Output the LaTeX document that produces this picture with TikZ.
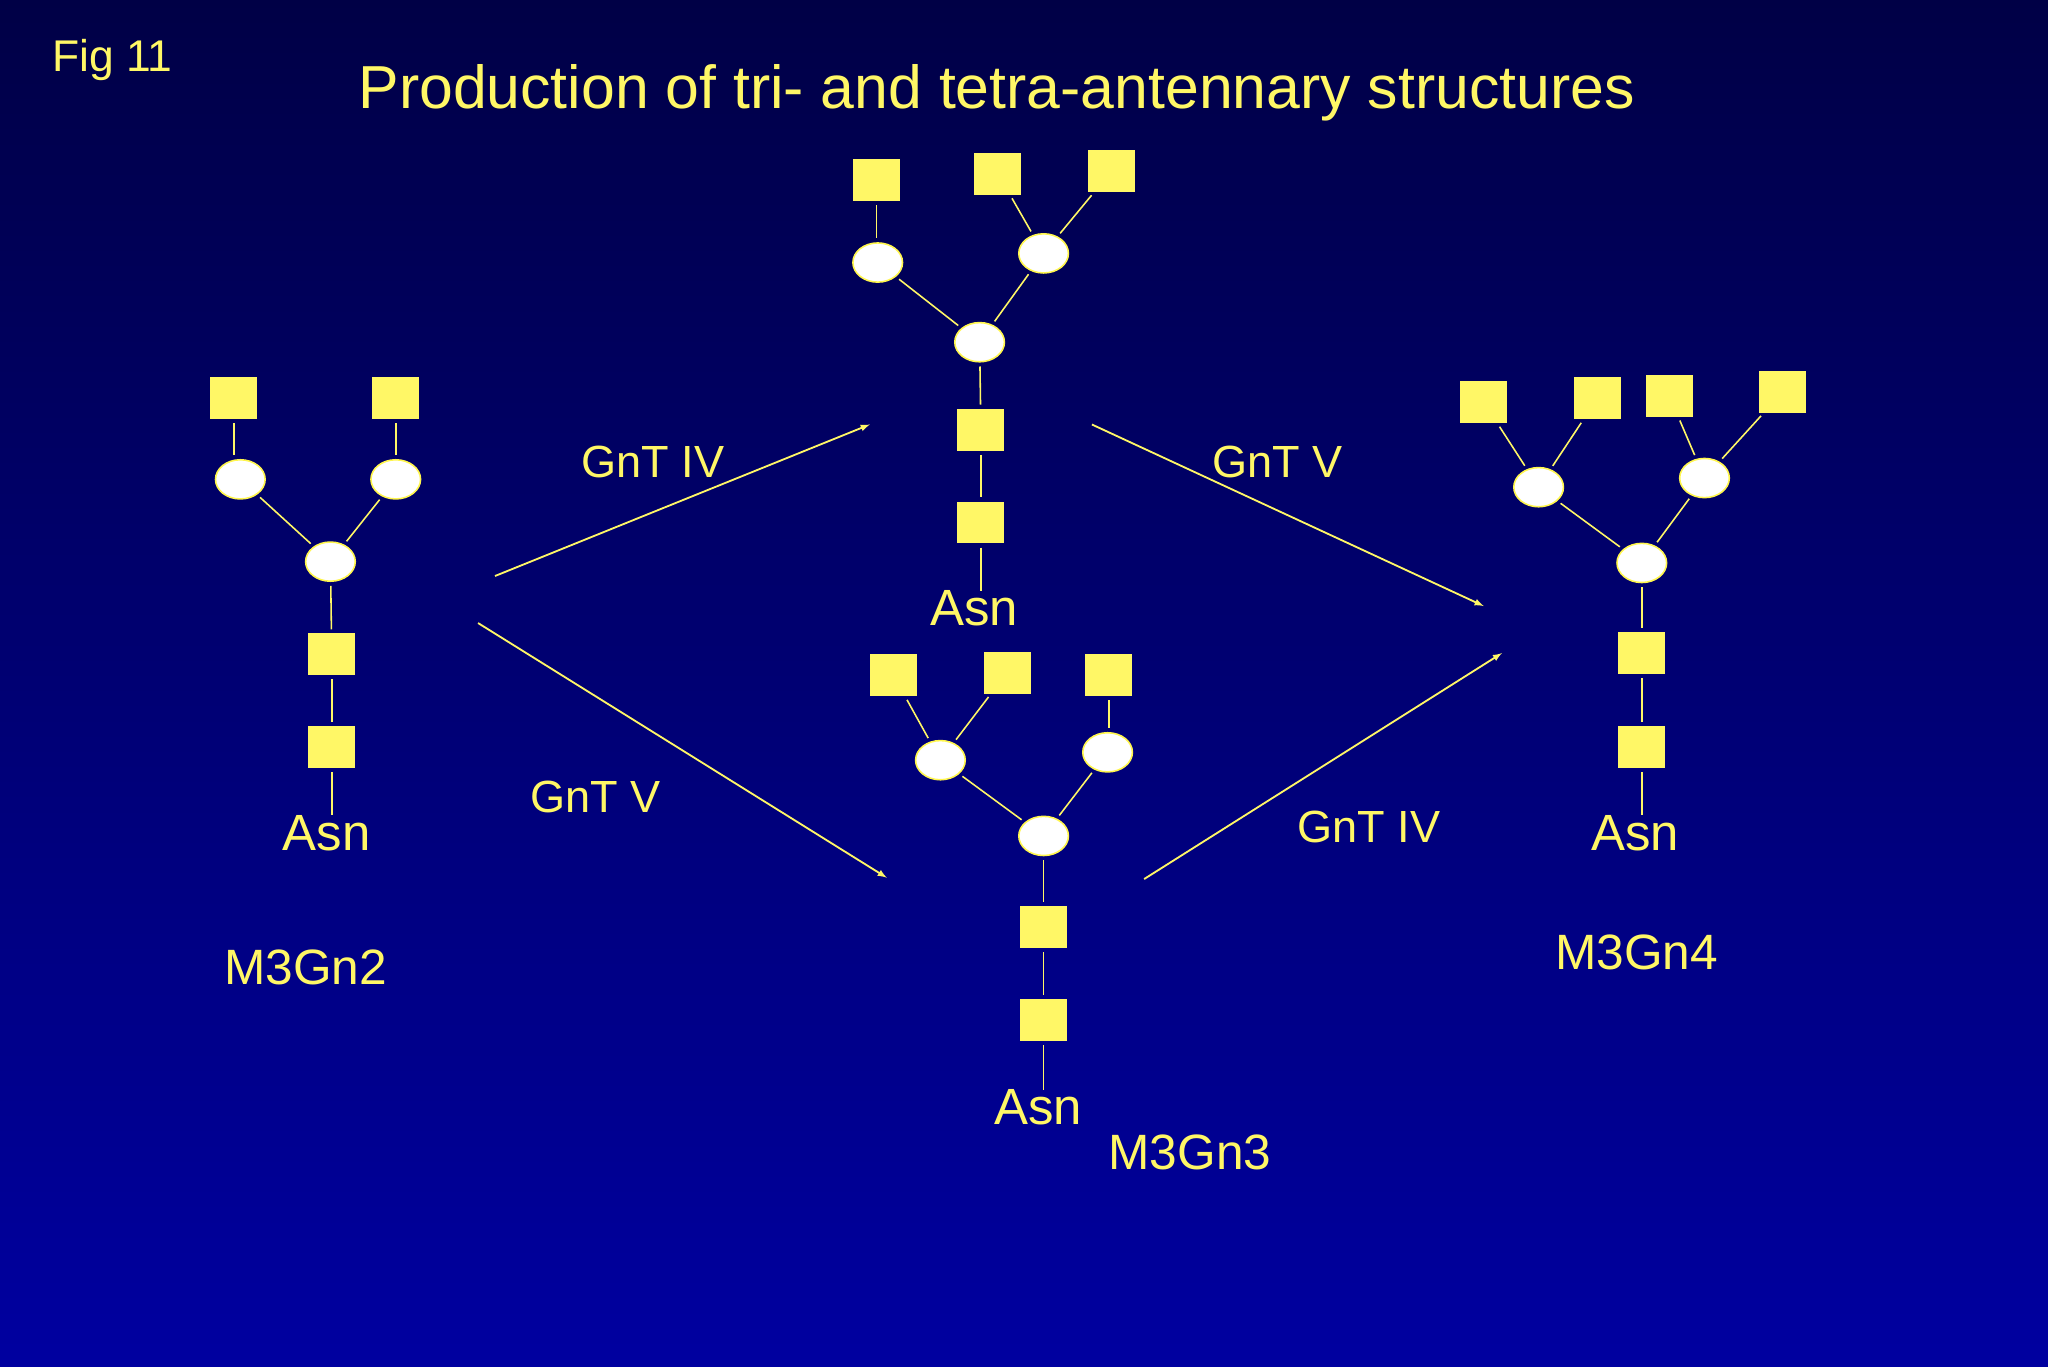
\documentclass[tikz,border=0pt]{standalone}
\usepackage{fontspec}
\setmainfont{Liberation Sans}
\usetikzlibrary{shapes.geometric}
\begin{document}
\begin{tikzpicture}[x=1pt,y=-1pt,
  sq/.style={fill=yellow!60!white,draw=none,minimum width=36pt,minimum height=32pt,inner sep=0pt},
  el/.style={ellipse,fill=white,draw=yellow!70!white,line width=1.2pt,minimum width=38pt,minimum height=30pt,inner sep=0pt},
  ln/.style={draw=yellow!60!white,line width=1.2pt,shorten <=3pt,shorten >=3pt},
  ar/.style={draw=yellow!60!white,line width=1.4pt,-latex},
  tx/.style={text=yellow!60!white,inner sep=0pt,font=\fontsize{38}{40}\selectfont},
  asn/.style={tx,font=\fontsize{39}{41}\selectfont},
  gl/.style={tx,font=\fontsize{34.5}{37}\selectfont}]
\shade[top color={rgb,255:red,0;green,0;blue,70},bottom color={rgb,255:red,0;green,0;blue,160}] (0,0) rectangle (1568,1046);
\useasboundingbox (0,0) rectangle (1568,1046);
\node[tx,font=\fontsize{34}{36}\selectfont] (fig) at (86,46) {Fig 11};
\node[tx,font=\fontsize{46.5}{48}\selectfont] (title) at (763,71) {Production of tri- and tetra-antennary structures};
% M3Gn2
\node[sq] (a1) at (179,305) {}; \node[sq] (a2) at (303,305) {};
\node[el] (ae1) at (184,367) {}; \node[el] (ae2) at (303,367) {};
\node[el] (ac) at (253,430) {};
\node[sq] (as1) at (254,501) {}; \node[sq] (as2) at (254,572) {};
\node[asn] (aasn) at (250,638) {Asn};
\node[tx] (aname) at (234,741) {M3Gn2};
\draw[ln] (a1)--(a1|-ae1.north); \draw[ln] (a2)--(ae2); \draw[ln] (ae1)--(ac); \draw[ln] (ae2)--(ac);
\draw[ln] (ac)--(as1); \draw[ln] (as1)--(as2); \draw[ln,shorten >=0pt] (as2)--(as2|-aasn.north);
% top
\node[sq] (b1) at (671,138) {}; \node[sq] (b2) at (764,133) {}; \node[sq] (b3) at (851,131) {};
\node[el] (be1) at (672,201) {}; \node[el] (be2) at (799,194) {};
\node[el] (bc) at (750,262) {};
\node[sq] (bs1) at (751,329) {}; \node[sq] (bs2) at (751,400) {};
\node[asn] (basn) at (746,466) {Asn};
\draw[ln] (b1)--(b1|-be1.north); \draw[ln] (b2)--(be2); \draw[ln] (b3)--(be2);
\draw[ln] (be1)--(bc); \draw[ln] (be2)--(bc);
\draw[ln] (bc)--(bs1); \draw[ln] (bs1)--(bs2); \draw[ln,shorten >=0pt] (bs2)--(bs2|-basn.north);
% bottom
\node[sq] (c1) at (684,517) {}; \node[sq] (c2) at (771,515) {}; \node[sq] (c3) at (849,517) {};
\node[el] (ce1) at (720,582) {}; \node[el] (ce2) at (848,576) {};
\node[el] (cc) at (799,640) {};
\node[sq] (cs1) at (799,710) {}; \node[sq] (cs2) at (799,781) {};
\node[asn] (casn) at (795,848) {Asn};
\node[tx] (cname) at (911,882) {M3Gn3};
\draw[ln] (c1)--(ce1); \draw[ln] (c2)--(ce1); \draw[ln] (c3)--(c3|-ce2.north);
\draw[ln] (ce1)--(cc); \draw[ln] (ce2)--(cc);
\draw[ln] (cc)--(cs1); \draw[ln] (cs1)--(cs2); \draw[ln,shorten >=0pt] (cs2)--(cs2|-casn.north);
% right
\node[sq] (d1) at (1136,308) {}; \node[sq] (d2) at (1223,305) {}; \node[sq] (d3) at (1278,303) {}; \node[sq] (d4) at (1365,300) {};
\node[el] (de1) at (1178,373) {}; \node[el] (de2) at (1305,366) {};
\node[el] (dc) at (1257,431) {};
\node[sq] (ds1) at (1257,500) {}; \node[sq] (ds2) at (1257,572) {};
\node[asn] (dasn) at (1252,638) {Asn};
\node[tx] (dname) at (1253,729) {M3Gn4};
\draw[ln] (d1)--(de1); \draw[ln] (d2)--(de1); \draw[ln] (d3)--(de2); \draw[ln] (d4)--(de2);
\draw[ln] (de1)--(dc); \draw[ln] (de2)--(dc);
\draw[ln] (dc)--(ds1); \draw[ln] (ds1)--(ds2); \draw[ln,shorten >=0pt] (ds2)--(ds2|-dasn.north);
% arrows
\coordinate (p1) at (379,441); \coordinate (q1) at (666,325);
\coordinate (p2) at (366,477); \coordinate (q2) at (679,672);
\coordinate (p3) at (836,325); \coordinate (q3) at (1136,464);
\coordinate (p4) at (876,673); \coordinate (q4) at (1150,500);
\draw[ar] (p1)--(q1); \draw[ar] (p2)--(q2); \draw[ar] (p3)--(q3); \draw[ar] (p4)--(q4);
\node[gl] (l1) at (500,354) {GnT IV};
\node[gl] (l2) at (456,610) {GnT V};
\node[gl] (l3) at (978,354) {GnT V};
\node[gl] (l4) at (1048,633) {GnT IV};
\end{tikzpicture}
\end{document}
